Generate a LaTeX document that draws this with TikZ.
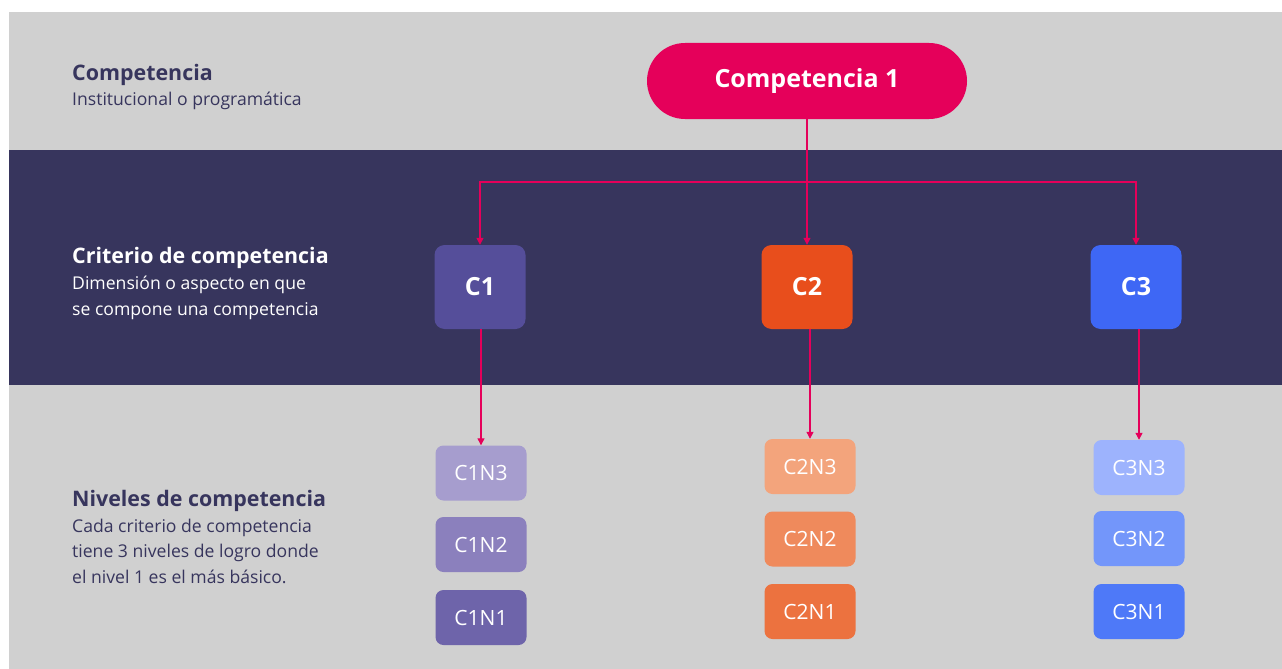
\documentclass[tikz,border=0pt]{standalone}
\usepackage{fontspec}
\setmainfont{Open Sans}
\usetikzlibrary{arrows.meta}
\definecolor{bggray}{HTML}{D0D0D0}
\definecolor{navy}{HTML}{37355D}
\definecolor{pink}{HTML}{E5005A}
\definecolor{cA}{HTML}{554E9A}
\definecolor{cB}{HTML}{E84E1C}
\definecolor{cC}{HTML}{3E67F5}
\definecolor{cAiii}{HTML}{A69DCE}
\definecolor{cAii}{HTML}{8B80BD}
\definecolor{cAi}{HTML}{6E64AA}
\definecolor{cBiii}{HTML}{F3A47C}
\definecolor{cBii}{HTML}{EF8A5C}
\definecolor{cBi}{HTML}{EC723F}
\definecolor{cCiii}{HTML}{9DB3FD}
\definecolor{cCii}{HTML}{7396FA}
\definecolor{cCi}{HTML}{4E79F8}
\tikzset{
  crit/.style={rounded corners=10pt, minimum width=91pt, minimum height=84pt, inner sep=0pt, text=white, font=\fontsize{25}{30}\selectfont\bfseries},
  lvl/.style={rounded corners=8pt, minimum width=91pt, minimum height=55pt, inner sep=0pt, text=white, font=\fontsize{21}{25}\selectfont},
  head/.style={anchor=base west, inner sep=0pt, font=\fontsize{21.4}{26}\selectfont\bfseries},
  body/.style={anchor=base west, inner sep=0pt, font=\fontsize{17.6}{21}\selectfont},
  arr/.style={draw=pink, line width=1.2pt, -{Triangle[length=7pt,width=7pt]}},
  ln/.style={draw=pink, line width=1.2pt}
}
\begin{document}
\begin{tikzpicture}[x=1pt,y=-1pt]
\useasboundingbox (0,0) rectangle (1282,669);
\fill[white] (0,0) rectangle (1282,669);
\fill[bggray] (9,12) rectangle (1282,669);
\fill[navy] (9,150) rectangle (1282,385);

% left texts
\node[head, text=navy] (h1) at (72,81) {Competencia};
\node[body, text=navy] (b1) at (72,105) {Institucional o programática};
\node[head, text=white] (h2) at (72,263) {Criterio de competencia};
\node[body, text=white] (b2a) at (72,289) {Dimensión o aspecto en que};
\node[body, text=white] (b2b) at (72,315) {se compone una competencia};
\node[head, text=navy] (h3) at (72,506) {Niveles de competencia};
\node[body, text=navy] (b3a) at (72,532) {Cada criterio de competencia};
\node[body, text=navy] (b3b) at (72,557) {tiene 3 niveles de logro donde};
\node[body, text=navy] (b3c) at (72,583) {el nivel 1 es el más básico.};

% top node
\node[fill=pink, rounded corners=38pt, minimum width=320pt, minimum height=76pt, inner sep=0pt, text=white, font=\fontsize{25}{30}\selectfont\bfseries] (comp) at (807,81) {Competencia 1};

% criteria
\node[crit, fill=cA] (C1) at (480,287) {C1};
\node[crit, fill=cB] (C2) at (807,287) {C2};
\node[crit, fill=cC] (C3) at (1136,287) {C3};

% levels
\node[lvl, fill=cAiii] (C1N3) at (481,473) {C1N3};
\node[lvl, fill=cAii] (C1N2) at (481,544.5) {C1N2};
\node[lvl, fill=cAi] (C1N1) at (481,617.5) {C1N1};
\node[lvl, fill=cBiii] (C2N3) at (810,466.5) {C2N3};
\node[lvl, fill=cBii] (C2N2) at (810,539) {C2N2};
\node[lvl, fill=cBi] (C2N1) at (810,611.5) {C2N1};
\node[lvl, fill=cCiii] (C3N3) at (1139,467.5) {C3N3};
\node[lvl, fill=cCii] (C3N2) at (1139,538.5) {C3N2};
\node[lvl, fill=cCi] (C3N1) at (1139,611.5) {C3N1};

% connectors
\coordinate (bus) at (807,182);
\draw[ln] (comp.south) -- (bus);
\draw[arr] (bus) -| (C1.north);
\draw[arr] (bus) -| (C3.north);
\draw[arr] (bus) -- (C2.north);
\draw[arr] (C1.south -| C1N3.north) -- (C1N3.north);
\draw[arr] (C2.south -| C2N3.north) -- (C2N3.north);
\draw[arr] (C3.south -| C3N3.north) -- (C3N3.north);
\end{tikzpicture}
\end{document}
